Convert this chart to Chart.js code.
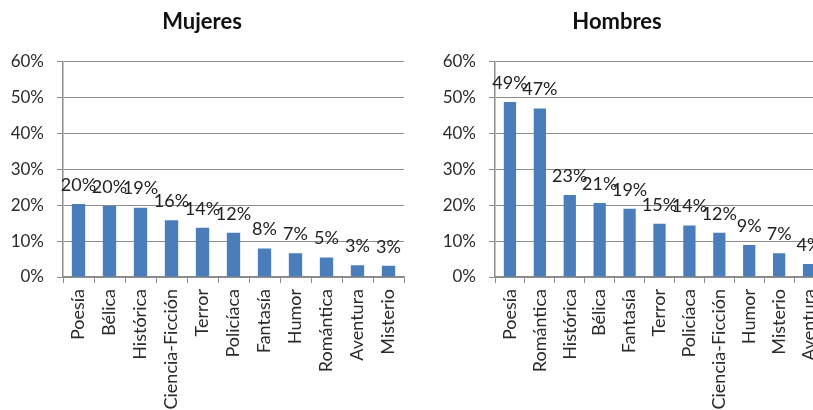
<!DOCTYPE html>
<html>
<head>
<meta charset="utf-8">
<script src="https://cdn.jsdelivr.net/npm/chart.js@4.4.0/dist/chart.umd.min.js"></script>
<style>
  html, body { margin: 0; padding: 0; background: #fff; overflow: hidden; width: 813px; height: 410px; }
  #wrap { position: relative; width: 813px; height: 410px; overflow: hidden; }
  canvas { position: absolute; top: 0; }
</style>
</head>
<body>
<div id="wrap">
  <canvas id="mujeres" width="424" height="410" style="left:0"></canvas>
  <canvas id="hombres" width="456" height="410" style="left:410px"></canvas>
</div>
<script>
// datos (porcentajes)
const generosMujeres = ["Poesía", "Bélica", "Histórica", "Ciencia-Ficción", "Terror", "Policíaca", "Fantasía", "Humor", "Romántica", "Aventura", "Misterio"];
const valoresMujeres = [20.3, 19.8, 19.3, 15.8, 13.7, 12.3, 7.9, 6.6, 5.4, 3.3, 3.1];

const generosHombres = ["Poesía", "Romántica", "Histórica", "Bélica", "Fantasía", "Terror", "Policíaca", "Ciencia-Ficción", "Humor", "Misterio", "Aventura"];
const valoresHombres = [48.7, 46.9, 22.8, 20.6, 19.0, 14.8, 14.3, 12.3, 8.9, 6.6, 3.6];

const ticksY = [0, 10, 20, 30, 40, 50, 60];

const FUENTE = "Lato, 'Open Sans', sans-serif";
const AZUL = "#4a7ebb";
const GRIS = "#8c8c8c";
const TEXTO = "#2b2b2b";

// etiquetas encima de cada barra
const etiquetasBarras = {
    id: "etiquetasBarras",
    afterDatasetsDraw(chart){
        const ctx = chart.ctx;
        const meta = chart.getDatasetMeta(0);
        const datos = chart.data.datasets[0].data;
        ctx.save();
        ctx.font = "18px " + FUENTE;
        ctx.fillStyle = "#222";
        ctx.textAlign = "center";
        ctx.textBaseline = "middle";
        meta.data.forEach(function(bar, i){
            ctx.fillText(Math.round(datos[i]) + "%", bar.x, bar.y - 19);
        });
        ctx.restore();
    }
};

function grafico(id, titulo, labels, valores, anchoEjeY, paddingDerecha, barPct){
    return new Chart(document.getElementById(id), {
        type: "bar",
        data: {
            labels: labels,
            datasets: [{
                data: valores,
                backgroundColor: AZUL,
                barPercentage: barPct,
                categoryPercentage: 1
            }]
        },
        options: {
            responsive: false,
            animation: false,
            layout: { padding: { top: 0, right: paddingDerecha, bottom: 0, left: 0 } },
            plugins: {
                legend: { display: false },
                tooltip: { enabled: false },
                title: {
                    display: true,
                    text: titulo,
                    color: "#111",
                    font: { family: FUENTE, size: 22, weight: "bold" },
                    padding: { top: 9, bottom: 26 }
                }
            },
            scales: {
                x: {
                    grid: { display: true, drawOnChartArea: false, drawTicks: true, tickLength: 6, color: GRIS, offset: true },
                    border: { display: true, color: GRIS, width: 1.5 },
                    ticks: {
                        color: TEXTO,
                        font: { family: FUENTE, size: 18 },
                        minRotation: 90,
                        maxRotation: 90,
                        autoSkip: false,
                        padding: 6
                    },
                    afterFit(scale){ scale.height = 133; }
                },
                y: {
                    min: 0,
                    max: 60,
                    afterBuildTicks(scale){ scale.ticks = ticksY.map(function(v){ return { value: v }; }); },
                    grid: { color: GRIS, lineWidth: 1, tickLength: 6 },
                    border: { display: true, color: GRIS, width: 1.5 },
                    ticks: {
                        color: TEXTO,
                        font: { family: FUENTE, size: 17 },
                        padding: 13,
                        callback: function(v){ return v + "%"; }
                    },
                    afterFit(scale){ scale.width = anchoEjeY; }
                }
            }
        },
        plugins: [etiquetasBarras]
    });
}

grafico("mujeres", "Mujeres", generosMujeres, valoresMujeres, 63, 20, 0.43);
grafico("hombres", "Hombres", generosHombres, valoresHombres, 85, 42, 0.41);
</script>
</body>
</html>
